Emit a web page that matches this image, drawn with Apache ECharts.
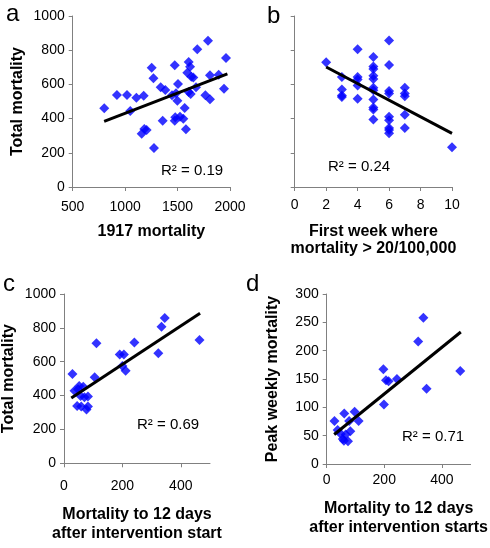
<!DOCTYPE html>
<html><head><meta charset="utf-8">
<script src="https://cdn.jsdelivr.net/npm/echarts@6/dist/echarts.min.js"></script>
<style>html,body{margin:0;padding:0;background:#fff}#c{width:490px;height:548px}</style>
</head><body><div id="c"></div>
<script>
// Panel a: 1917 mortality vs total mortality
const aX = [801,922,1018,1049,1107,1177,1158,1183,1205,1253,1270,1275,1339,1358,1383,1447,1473,1473,1478,1485,1498,1504,1523,1555,1568,1580,1593,1606,1606,1619,1625,1631,1650,1676,1688,1765,1790,1809,1809,1892,1943,1962];
const aY = [460,538,538,444,522,534,312,339,333,698,636,228,583,388,567,536,712,388,408,548,505,602,411,399,462,337,668,731,556,703,544,645,640,583,805,536,855,653,513,657,575,754];
const aTrend = [[800,384],[1975,662]];
// Panel b: first week where mortality > 20/100,000 vs total mortality
const bX = [2,3,3,3,3,4,4,4,4,4,5,5,5,5,5,5,5,5,5,5,5,6,6,6,6,6,6,6,6,6,7,7,7,7,7,10];
const bY = [729,643,570,535,527,806,643,628,593,516,760,705,690,651,632,581,566,512,465,453,395,857,713,562,547,411,391,345,333,314,581,547,531,422,345,233];
const bTrend = [[2,702],[10,314]];
// Panel c: mortality to 12 days after intervention start vs total mortality
const cX = [29,36,48,52,66,57,70,82,45,59,77,82,105,111,191,205,200,211,241,323,334,345,464];
const cY = [527,429,437,456,452,398,390,394,339,335,318,335,508,709,642,642,575,547,713,650,807,858,728];
const cTrend = [[25,386],[466,886]];
// Panel d: mortality to 12 days after intervention starts vs peak weekly mortality
const dX = [27,38,49,56,61,66,74,78,82,97,111,197,199,206,215,244,318,336,347,464,60];
const dY = [76,60,53,44,89,52,40,76,58,92,76,167,105,148,146,150,216,258,133,164,41];
const dTrend = [[26,52],[466,233]];

const aXTicks = [500,2000,500];   // min, max, interval
const aYTicks = [0,1000,200];
const bXTicks = [0,10,2];
const cXTicks = [0,500,200];
const dYTicks = [0,300,50];
const labels = {
  aX:'1917 mortality', aY:'Total mortality',
  bX:'First week where\nmortality > 20/100,000',
  cX:'Mortality to 12 days\nafter intervention start', cY:'Total mortality',
  dX:'Mortality to 12 days\nafter intervention starts', dY:'Peak weekly mortality',
  r2:['R\u00b2 = 0.19','R\u00b2 = 0.24','R\u00b2 = 0.69','R\u00b2 = 0.71']
};

const FONT = '"Liberation Sans", Arial, Helvetica, sans-serif';
const AX = '#808080';
const plain = v => String(v);
function xAxis(gi, t, name, margin, gap, showMax, lh){
  return {gridIndex:gi, type:'value', min:t[0], max:t[1], interval:t[2],
    name:name, nameLocation:'middle', nameGap:gap,
    nameTextStyle:{fontFamily:FONT,fontSize:16,fontWeight:'bold',color:'#000',lineHeight:lh},
    axisLine:{show:true,onZero:false,lineStyle:{color:AX,width:1}},
    axisTick:{show:true,length:4,lineStyle:{color:AX}},
    axisLabel:{fontFamily:FONT,fontSize:14,color:'#000',margin:margin,showMaxLabel:showMax,formatter:plain},
    splitLine:{show:false}};
}
function yAxis(gi, t, name, showLabels, gap){
  return {gridIndex:gi, type:'value', min:t[0], max:t[1], interval:t[2],
    name:name, nameLocation:'middle', nameGap:gap,
    nameTextStyle:{fontFamily:FONT,fontSize:16,fontWeight:'bold',color:'#000'},
    axisLine:{show:true,lineStyle:{color:AX,width:1}},
    axisTick:{show:true,length:4,lineStyle:{color:AX}},
    axisLabel:{show:showLabels,fontFamily:FONT,fontSize:14,color:'#000',margin:8,formatter:plain},
    splitLine:{show:false}};
}
function pts(xs, ys){ return xs.map((x,i)=>[x,ys[i]]); }
function scatter(i, xs, ys){
  return {type:'scatter', xAxisIndex:i, yAxisIndex:i, data:pts(xs,ys), symbol:'diamond', symbolSize:10,
    itemStyle:{color:'#0000ff'}, silent:true, z:2};
}
function trend(i, d){
  return {type:'line', xAxisIndex:i, yAxisIndex:i, data:d, symbol:'none', lineStyle:{color:'#000',width:3}, silent:true, z:3};
}
function txt(left, top, text, size){
  return {type:'text', left:left, top:top, style:{text:text, fontFamily:FONT, fontSize:size, fill:'#000'}};
}

const chart = echarts.init(document.getElementById('c'), null, {renderer:'canvas'});
chart.setOption({
  animation:false,
  grid:[
    {left:72.7, top:16, width:157.3, height:171},
    {left:294.7, top:16, width:157.3, height:171},
    {left:63.3, top:294, width:146.7, height:169.3},
    {left:326.7, top:294, width:148, height:170}
  ],
  xAxis:[
    xAxis(0, aXTicks, labels.aX, 13, 35, true, 19),
    xAxis(1, bXTicks, labels.bX, 11, 36, true, 17),
    xAxis(2, cXTicks, labels.cX, 16, 42, false, 19),
    xAxis(3, cXTicks, labels.dX, 9, 35, false, 19)
  ],
  yAxis:[
    yAxis(0, aYTicks, labels.aY, true, 47),
    yAxis(1, aYTicks, '', false, 0),
    yAxis(2, aYTicks, labels.cY, true, 47),
    yAxis(3, dYTicks, labels.dY, true, 46)
  ],
  series:[
    scatter(0,aX,aY), trend(0,aTrend),
    scatter(1,bX,bY), trend(1,bTrend),
    scatter(2,cX,cY), trend(2,cTrend),
    scatter(3,dX,dY), trend(3,dTrend)
  ],
  graphic:[
    txt(6, 2, 'a', 24), txt(267, 4, 'b', 24), txt(3, 272, 'c', 24), txt(246, 272, 'd', 24),
    txt(161, 163, labels.r2[0], 15), txt(328, 159, labels.r2[1], 15),
    txt(137, 417, labels.r2[2], 15), txt(402, 429, labels.r2[3], 15)
  ]
});
</script></body></html>
